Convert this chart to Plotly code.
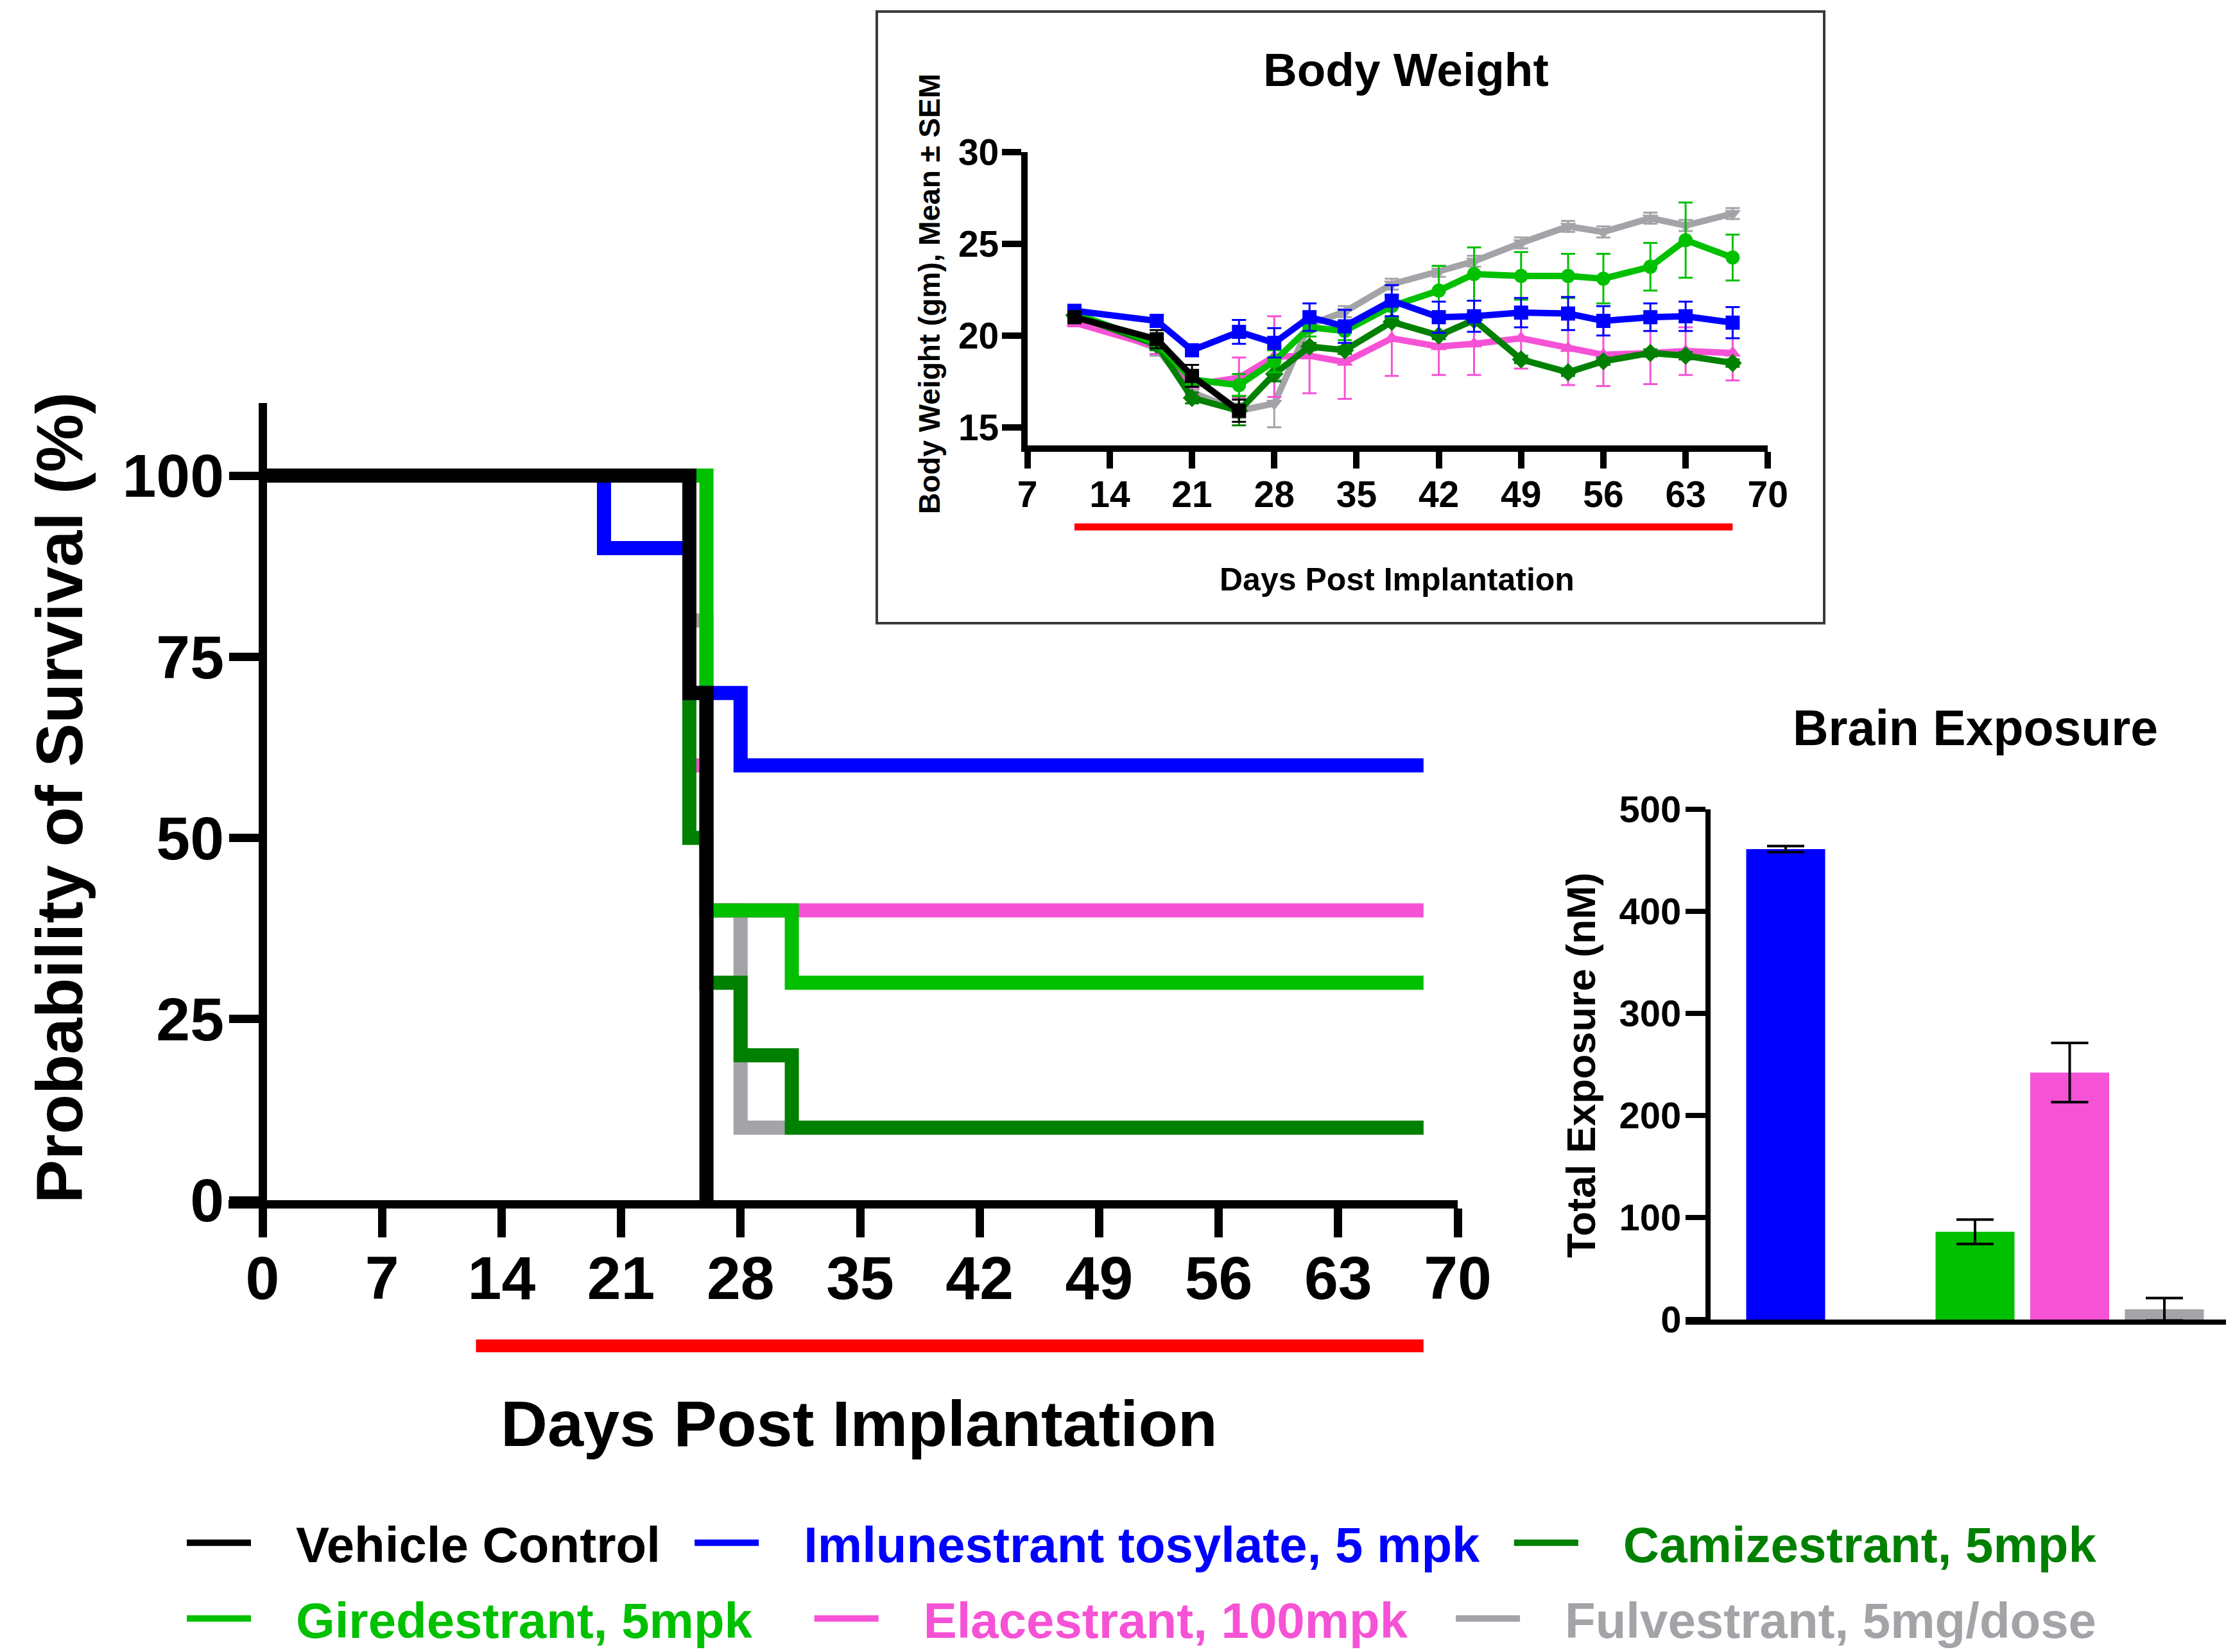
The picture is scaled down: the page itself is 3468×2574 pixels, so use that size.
import plotly.graph_objects as go

W, H = 3468, 2574
FONT = "Liberation Sans, Arial, sans-serif"


def px_x(p):
    return p / W


def px_y(p):
    return 1 - p / H


# ---------------- Data ----------------
# Kaplan-Meier survival (step change points)
groups = ["Vehicle Control", "Imlunestrant tosylate, 5 mpk", "Camizestrant, 5mpk",
          "Giredestrant, 5mpk", "Elacestrant, 100mpk", "Fulvestrant, 5mg/dose"]
colors = ["#000000", "#0000FF", "#008000", "#00C000", "#F652D6", "#A3A3A8"]

vehicle_days = [0, 25, 26, 26]
vehicle_surv = [100, 70, 0, 0]
imlunestrant_days = [0, 20, 25, 28, 68]
imlunestrant_surv = [100, 90, 70, 60, 60]
camizestrant_days = [0, 25, 26, 28, 31, 68]
camizestrant_surv = [100, 50, 30, 20, 10, 10]
giredestrant_days = [0, 26, 31, 68]
giredestrant_surv = [100, 40, 30, 30]
elacestrant_days = [0, 25, 26, 68]
elacestrant_surv = [100, 60, 40, 40]
fulvestrant_days = [0, 25, 26, 28, 68]
fulvestrant_surv = [100, 80, 40, 10, 10]

treatment_main = [12.5, 68]
treatment_inset = [11, 67]

# Body weight inset (mean +/- SEM)
bw_days = [11, 18, 21, 25, 28, 31, 34, 38, 42, 45, 49, 53, 56, 60, 63, 67]
vehicle_bw = [21.0, 19.8, 17.8, 15.9]
vehicle_sem = [0.2, 0.5, 0.6, 0.6]
imlunestrant_bw = [21.35, 20.8, 19.2, 20.2, 19.6, 21.0, 20.5, 21.9, 21.0, 21.05, 21.25, 21.2, 20.8, 21.0, 21.05, 20.7]
imlunestrant_sem = [0.2, 0.3, 0.3, 0.65, 0.8, 0.75, 0.9, 0.85, 0.85, 0.85, 0.8, 0.9, 0.8, 0.75, 0.8, 0.85]
camizestrant_bw = [21.1, 19.5, 16.6, 15.9, 17.9, 19.4, 19.2, 20.75, 20.0, 20.85, 18.7, 18.0, 18.6, 19.05, 18.9, 18.5]
camizestrant_sem = [0.2, 0.3, 0.3, 0.8, 0.4, 0.2, 0.2, 0.2, 0.2, 0.2, 0.2, 0.2, 0.2, 0.2, 0.2, 0.2]
giredestrant_bw = [21.2, 19.6, 17.6, 17.3, 18.6, 20.45, 20.25, 21.6, 22.45, 23.35, 23.25, 23.25, 23.1, 23.75, 25.2, 24.25]
giredestrant_sem = [0.2, 0.3, 0.3, 0.6, 0.6, 0.5, 0.5, 0.6, 1.35, 1.45, 1.3, 1.2, 1.35, 1.3, 2.05, 1.25]
elacestrant_bw = [20.7, 19.4, 17.3, 17.7, 18.85, 18.9, 18.55, 19.85, 19.4, 19.55, 19.85, 19.3, 18.95, 19.05, 19.15, 19.05]
elacestrant_sem = [0.2, 0.4, 0.5, 1.1, 2.2, 2.05, 2.0, 2.05, 1.55, 1.7, 1.65, 2.0, 1.7, 1.7, 1.3, 1.5]
fulvestrant_bw = [21.0, 19.3, 16.9, 15.9, 16.3, 20.6, 21.3, 22.8, 23.5, 24.05, 25.05, 25.95, 25.65, 26.4, 26.0, 26.65]
fulvestrant_sem = [0.2, 0.4, 0.3, 0.4, 1.3, 0.3, 0.3, 0.3, 0.3, 0.3, 0.3, 0.3, 0.3, 0.3, 0.3, 0.3]

# Brain exposure bars
exposure_groups = ["Imlunestrant", "Camizestrant", "Giredestrant", "Elacestrant", "Fulvestrant"]
exposure_nM = [461, None, 86, 242, 10]
exposure_sem = [3, None, 12, 29, 11]
exposure_colors = ["#0000FF", "#008000", "#00C000", "#F652D6", "#A3A3A8"]

surv_x = [vehicle_days, imlunestrant_days, camizestrant_days, giredestrant_days, elacestrant_days, fulvestrant_days]
surv_y = [vehicle_surv, imlunestrant_surv, camizestrant_surv, giredestrant_surv, elacestrant_surv, fulvestrant_surv]
bw_y = [vehicle_bw, imlunestrant_bw, camizestrant_bw, giredestrant_bw, elacestrant_bw, fulvestrant_bw]
bw_e = [vehicle_sem, imlunestrant_sem, camizestrant_sem, giredestrant_sem, elacestrant_sem, fulvestrant_sem]
symbols = ["square", "square", "diamond", "circle", "triangle-up", "triangle-down"]

# draw order bottom -> top
draw_order = [5, 4, 2, 3, 1, 0]
NB = "\u00a0"
lead = [NB * 3] * 6
trail = [NB * 2, NB * 2, "", NB * 4, NB * 3, ""]

fig = go.Figure()

for i in draw_order:
    fig.add_trace(go.Scatter(
        x=surv_x[i], y=surv_y[i], mode="lines", line=dict(color=colors[i], width=22, shape="hv"),
        name=f"{lead[i]}<span style='color:{colors[i]}'>{groups[i]}</span>{trail[i]}",
        legend="legend" if i < 3 else "legend2", legendrank=i + 1,
        xaxis="x", yaxis="y", showlegend=True,
    ))

for i in draw_order:
    fig.add_trace(go.Scatter(
        x=bw_days[:len(bw_y[i])], y=bw_y[i], mode="lines+markers",
        line=dict(color=colors[i], width=10),
        marker=dict(symbol=symbols[i], size=22, color=colors[i]),
        error_y=dict(type="data", array=bw_e[i], color=colors[i], thickness=3, width=11),
        xaxis="x2", yaxis="y2", showlegend=False, name=groups[i],
    ))

fig.add_trace(go.Bar(
    x=exposure_groups, y=exposure_nM,
    marker=dict(color=exposure_colors, line=dict(width=0)),
    width=0.834,
    error_y=dict(type="data", array=exposure_sem, color="#000000", thickness=4, width=29),
    xaxis="x3", yaxis="y3", showlegend=False,
))

# ---------------- Axes ----------------
common_ax = dict(showgrid=False, zeroline=False, automargin=False, linecolor="black", tickcolor="black")

# main survival axes
x0_main, x70_main = 409.0, 2271.0
ppd = (x70_main - x0_main) / 70
y0_main, y100_main = 1870.0, 741.0
ppu = (y0_main - y100_main) / 100
main_x_start = -2
tickfont_main = dict(family=FONT, size=95, color="black", weight="bold")

fig.update_layout(
    xaxis=dict(domain=[px_x(x0_main + main_x_start * ppd), px_x(x70_main)], range=[main_x_start, 70],
               anchor="y", showline=True, linewidth=13,
               ticks="outside", ticklen=45, tickwidth=13, ticklabelstandoff=-18,
               tickvals=list(range(0, 71, 7)), tickfont=tickfont_main, **common_ax),
    yaxis=dict(domain=[px_y(y0_main), px_y(y0_main - 110 * ppu)], range=[0, 110],
               anchor="free", position=px_x(x0_main), showline=True, linewidth=13,
               ticks="outside", ticklen=46, tickwidth=13, ticklabelstandoff=-11,
               tickvals=[0, 25, 50, 75, 100], tickfont=tickfont_main, **common_ax),
)

# inset body weight axes
x7_in, x42_in = 1600.7, 2241.6
ppd_in = (x42_in - x7_in) / 35
y25_in = 379.9
ppu_in = 28.58
tickfont_in = dict(family=FONT, size=57, color="black", weight="bold")
fig.update_layout(
    xaxis2=dict(domain=[px_x(x7_in), px_x(x7_in + 63 * ppd_in)], range=[7, 70], anchor="y2",
                showline=True, linewidth=10, ticks="outside", ticklen=26, tickwidth=10, ticklabelstandoff=-9,
                tickvals=list(range(7, 71, 7)), tickfont=tickfont_in, **common_ax),
    yaxis2=dict(domain=[px_y(y25_in + 11 * ppu_in), px_y(y25_in - 5 * ppu_in)], range=[14, 30], anchor="x2",
                showline=True, linewidth=10, ticks="outside", ticklen=30, tickwidth=10, ticklabelstandoff=-7,
                tickvals=[15, 20, 25, 30], tickfont=tickfont_in, **common_ax),
)

# brain exposure axes
bar_c0, bar_step = 2782.0, 147.5
bar_left = 2626.0
y0_bar, y500_bar = 2056.0, 1261.0
tickfont_bar = dict(family=FONT, size=58, color="black", weight="bold")
fig.update_layout(
    xaxis3=dict(domain=[px_x(bar_left), 1.0], range=[(bar_left - bar_c0) / bar_step, (W - bar_c0) / bar_step],
                anchor="y3", showline=True, linewidth=8, ticks="", showticklabels=False,
                type="category", categoryarray=exposure_groups, **common_ax),
    yaxis3=dict(domain=[px_y(y0_bar), px_y(y500_bar)], range=[0, 500], anchor="free", position=px_x(2661),
                showline=True, linewidth=8, ticks="outside", ticklen=31, tickwidth=8, ticklabelstandoff=-5,
                tickvals=[0, 100, 200, 300, 400, 500], tickfont=tickfont_bar, **common_ax),
)

# ---------------- Shapes ----------------
shapes = [
    dict(type="rect", xref="paper", yref="paper", x0=px_x(1366), x1=px_x(2842), y0=px_y(971), y1=px_y(18),
         line=dict(color="#3a3a3a", width=4), fillcolor="rgba(0,0,0,0)", layer="below"),
    dict(type="line", xref="x", yref="paper", x0=treatment_main[0], x1=treatment_main[1],
         y0=px_y(2097), y1=px_y(2097), line=dict(color="#FF0000", width=20)),
    dict(type="line", xref="x2", yref="paper", x0=treatment_inset[0], x1=treatment_inset[1],
         y0=px_y(821), y1=px_y(821), line=dict(color="#FF0000", width=11)),
]


# ---------------- Titles (annotations) ----------------
def ann(text, x, y, size, angle=0, color="black"):
    return dict(text=text, x=px_x(x), y=px_y(y), xref="paper", yref="paper", showarrow=False,
                xanchor="center", yanchor="middle", textangle=angle,
                font=dict(family=FONT, size=size, color=color, weight="bold"))


annotations = [
    ann("Probability of Survival (%)", 93, 1243, 102, angle=-90),
    ann("Days Post Implantation", 1338, 2218, 101),
    ann("Body Weight", 2190, 108, 73),
    ann("Body Weight (gm), Mean ± SEM", 1448, 458, 46, angle=-90),
    ann("Days Post Implantation", 2176, 903, 50),
    ann("Brain Exposure", 3077, 1134, 77),
    ann("Total Exposure (nM)", 2463, 1660, 63, angle=-90),
]

legend_common = dict(orientation="h", xanchor="left", yanchor="middle", bgcolor="rgba(0,0,0,0)",
                     borderwidth=0, itemwidth=100, traceorder="normal", xref="container", yref="container",
                     font=dict(family=FONT, size=78, color="black", weight="bold"))

fig.update_layout(
    width=W, height=H, margin=dict(l=0, r=0, t=0, b=0, autoexpand=False),
    paper_bgcolor="white", plot_bgcolor="rgba(0,0,0,0)",
    shapes=shapes, annotations=annotations, hovermode=False,
    legend=dict(x=px_x(286), y=px_y(2404), **legend_common),
    legend2=dict(x=px_x(286), y=px_y(2522), **legend_common),
    bargap=0.166,
)

fig.write_html("out.html")
